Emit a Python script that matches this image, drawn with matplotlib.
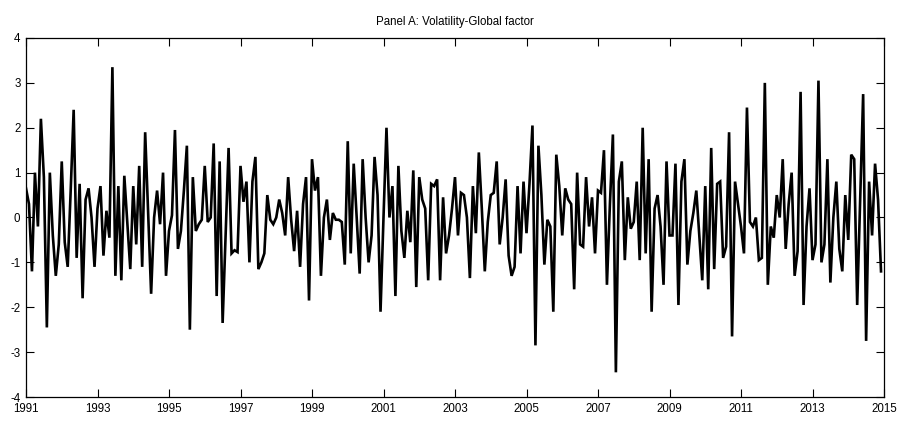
import numpy as np
import matplotlib
matplotlib.use("Agg")
import matplotlib.pyplot as plt

title = "Panel A: Volatility-Global factor"
start_year = 1991
values = [
    0.65, 0.3, -1.2, 1.0, -0.2, 2.2, 0.9, -2.45, 1.0, -0.4, -1.3, -0.6,
    1.25, -0.55, -1.1, 0.6, 2.4, -0.9, 0.75, -1.8, 0.4, 0.65, 0.0, -1.1,
    0.2, 0.7, -0.85, 0.15, -0.45, 3.35, -1.3, 0.7, -1.4, 0.93, -0.1, -1.15,
    0.7, -0.6, 1.15, -1.1, 1.9, 0.1, -1.7, 0.0, 0.6, -0.15, 1.0, -1.3,
    -0.3, 0.05, 1.95, -0.7, -0.3, 0.6, 1.6, -2.5, 0.9, -0.3, -0.15, -0.05,
    1.15, -0.1, 0.0, 1.65, -1.75, 1.25, -2.35, -0.4, 1.55, -0.8, -0.73, -0.77,
    1.15, 0.35, 0.8, -1.0, 0.8, 1.35, -1.15, -1.0, -0.8, 0.5, -0.05, -0.15,
    0.0, 0.4, 0.1, -0.4, 0.9, -0.05, -0.75, 0.15, -1.1, 0.3, 0.9, -1.85,
    1.3, 0.6, 0.9, -1.3, 0.0, 0.4, -0.5, 0.1, -0.05, -0.05, -0.1, -1.05,
    1.7, -0.8, 1.2, 0.0, -1.25, 1.3, 0.0, -1.0, -0.4, 1.35, 0.5, -2.1,
    0.0, 2.0, 0.0, 0.7, -1.75, 1.15, -0.3, -0.9, 0.15, -0.55, 1.05, -1.55,
    0.9, 0.4, 0.2, -1.4, 0.75, 0.7, 0.85, -1.4, 0.45, -0.8, -0.4, 0.2,
    0.9, -0.4, 0.55, 0.5, 0.0, -1.35, 0.7, -0.35, 1.45, 0.2, -1.2, -0.1,
    0.5, 0.55, 1.25, -0.6, 0.0, 0.85, -0.85, -1.3, -1.1, 0.7, -0.8, 0.8,
    -0.35, 0.75, 2.05, -2.85, 1.6, 0.5, -1.05, -0.05, -0.2, -2.1, 1.4, 0.7,
    -0.4, 0.65, 0.4, 0.3, -1.6, 1.0, -0.6, -0.65, 0.9, -0.2, 0.45, -0.8,
    0.6, 0.55, 1.5, -1.5, 0.3, 1.85, -3.45, 0.8, 1.25, -0.95, 0.45, -0.25,
    -0.1, 0.8, -0.95, 2.0, -0.8, 1.3, -2.1, 0.2, 0.5, -0.2, -1.5, 1.25,
    -0.4, -0.4, 1.2, -1.95, 0.8, 1.3, -1.05, -0.3, 0.1, 0.6, -0.4, -1.4,
    0.7, -1.6, 1.55, -1.15, 0.75, 0.8, -0.9, -0.65, 1.9, -2.65, 0.8, 0.3,
    -0.2, -0.8, 2.45, -0.1, -0.2, 0.0, -0.95, -0.9, 3.0, -1.5, -0.2, -0.45,
    0.5, 0.0, 1.3, -0.7, 0.3, 1.0, -1.3, -0.75, 2.8, -1.95, -0.2, 0.65,
    -0.95, -0.6, 3.05, -1.0, -0.6, 1.3, -1.45, 0.0, 0.8, -0.7, -1.2, 0.5,
    -0.5, 1.4, 1.3, -1.95, 0.4, 2.75, -2.75, 0.8, -0.4, 1.2, 0.4, -1.2,
]
xticks = list(range(1991, 2016, 2))
yticks = list(range(-4, 5))

plt.rcParams['font.family'] = ['Liberation Sans', 'DejaVu Sans']
plt.rcParams['axes.unicode_minus'] = False

fig = plt.figure(figsize=(9.06, 4.23), dpi=100)
ax = fig.add_axes([26/906, 1-397/423, (884-26)/906, (397-38)/423])

x = start_year + np.arange(len(values)) / 12.0
ax.plot(x, values, color='black', lw=1.9, solid_joinstyle='miter')

ax.set_xlim(1991, 2015)
ax.set_ylim(-4, 4)
ax.set_xticks(xticks)
ax.set_yticks(yticks)
ax.tick_params(direction='in', top=True, right=True, length=5.5, width=0.8,
               labelsize=8.3, pad=4)
for s in ax.spines.values():
    s.set_linewidth(0.9)
ax.set_title(title, fontsize=8.3, pad=9)

fig.savefig("out.png", dpi=100)
